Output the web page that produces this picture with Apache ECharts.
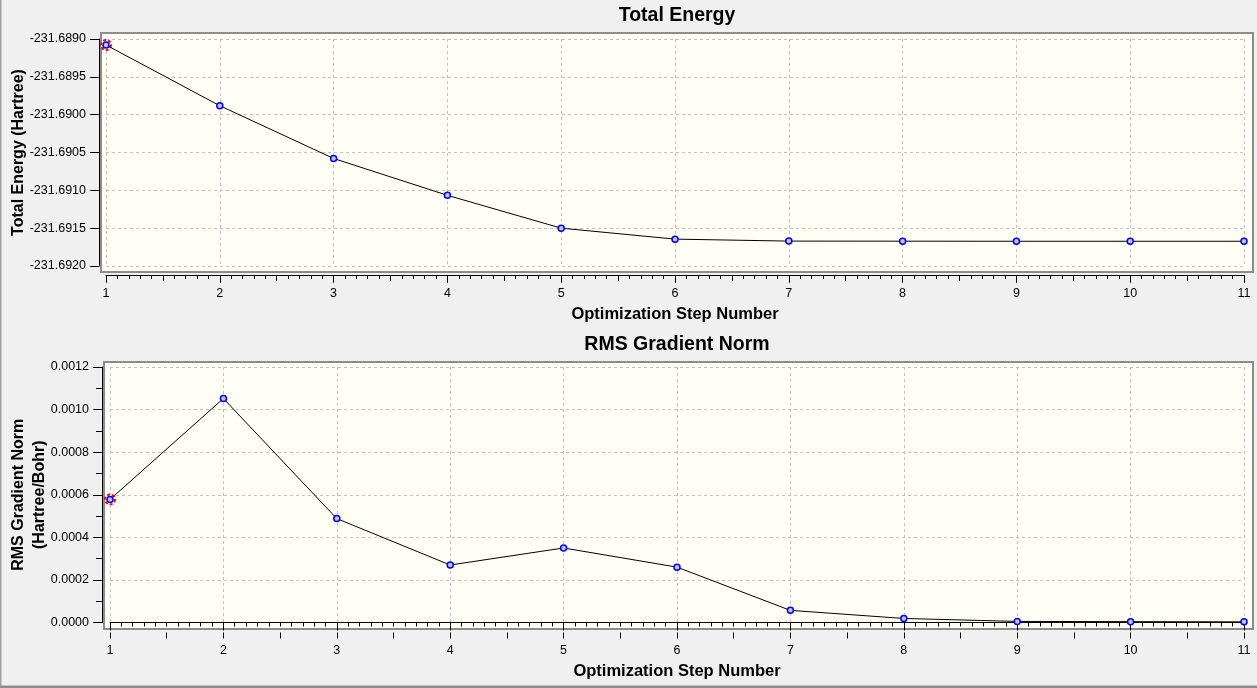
<!DOCTYPE html>
<html>
<head>
<meta charset="utf-8">
<title>Optimization</title>
<script src="https://cdn.jsdelivr.net/npm/echarts@6/dist/echarts.min.js"></script>
<style>
  html, body { margin: 0; padding: 0; background: #f0f0f0; }
  #chart { width: 1257px; height: 688px; }
</style>
</head>
<body>
<div id="chart"></div>
<script>
// data
const steps = [1, 2, 3, 4, 5, 6, 7, 8, 9, 10, 11];
const totalEnergy = [-231.689079, -231.689882, -231.690579, -231.691066, -231.691500,
  -231.691645, -231.691671, -231.691672, -231.691673, -231.691673, -231.691673];
const rmsGradient = [0.000578, 0.001052, 0.000488, 0.000270, 0.000350,
  0.000260, 0.000057, 0.000019, 0.000005, 0.000004, 0.000003];

// axis ranges: min, max, step
const stepAxis = [1, 11, 1];
const energyAxis = [-231.6920, -231.6890, 0.0005];
const gradientAxis = [0, 0.0012, 0.0002];

const titles = ['Total Energy', 'RMS Gradient Norm'];
const xName = 'Optimization Step Number';
const yNames = ['Total Energy (Hartree)', 'RMS Gradient Norm\n(Hartree/Bohr)'];

(function() {
  let myChart = echarts.init(document.getElementById('chart'))
  const font = '"Liberation Sans", Arial, sans-serif'

  // plot boxes (area covered by the axis range) + frame padding [t, r, b, l]
  const plots = [
    { left: 106, top: 39, width: 1138, height: 227, pad: [6, 9, 6, 5], xOff: 9, yOff: 7, xGap: 31, yGap: 70 },
    { left: 110, top: 367, width: 1134, height: 255.5, pad: [5, 9, 6.5, 6], xOff: 10, yOff: 8, xGap: 30, yGap: 52 }
  ]

  function xAxes(i) {
    const base = {
      type: 'value', gridIndex: i, position: 'bottom', offset: plots[i].xOff,
      min: stepAxis[0], max: stepAxis[1]
    }
    return [
      Object.assign({}, base, {
        interval: stepAxis[2],
        name: xName, nameLocation: 'middle', nameGap: plots[i].xGap, nameMoveOverlap: false,
        nameTextStyle: { fontFamily: font, fontSize: 16.5, fontWeight: 'bold', color: '#000' },
        axisLine: { show: true, lineStyle: { color: '#000', width: 1 } },
        axisTick: { show: true, length: 8, lineStyle: { color: '#000' } },
        minorTick: { show: true, splitNumber: 10, length: 4, lineStyle: { color: '#000' } },
        axisLabel: { margin: 12, fontFamily: font, fontSize: 12.5, color: '#000',
          showMinLabel: true, showMaxLabel: true },
        splitLine: { show: true, lineStyle: { color: '#c0c0c0', type: [3, 3] } }
      }),
      // half-step ticks, a little longer than the minor ones
      Object.assign({}, base, {
        interval: stepAxis[2] / 2,
        axisLine: { show: false },
        axisTick: { show: true, length: 6, lineStyle: { color: '#000' } },
        axisLabel: { show: false },
        splitLine: { show: false }
      })
    ]
  }

  function yAxis(i, range, minor, name) {
    return {
      type: 'value', gridIndex: i, position: 'left', offset: plots[i].yOff,
      min: range[0], max: range[1], interval: range[2],
      name: name, nameLocation: 'middle', nameGap: plots[i].yGap, nameMoveOverlap: false,
      nameTextStyle: { fontFamily: font, fontSize: 16, fontWeight: 'bold', color: '#000', lineHeight: 21 },
      axisLine: { show: true, lineStyle: { color: '#000', width: 1 } },
      axisTick: { show: true, length: 9, lineStyle: { color: '#000' } },
      minorTick: { show: minor, splitNumber: 2, length: 6, lineStyle: { color: '#000' } },
      axisLabel: { margin: 13, fontFamily: font, fontSize: 12.5, color: '#000',
        showMinLabel: true, showMaxLabel: true,
        formatter: v => v.toFixed(4) },
      splitLine: { show: true, lineStyle: { color: '#c0c0c0', type: [3, 3] } }
    }
  }

  function lineSeries(i, values) {
    return {
      type: 'line', xAxisIndex: i * 2, yAxisIndex: i,
      data: steps.map((s, k) => [s, values[k]]),
      symbol: 'circle', symbolSize: 6, showAllSymbol: true,
      lineStyle: { color: '#000', width: 1 },
      itemStyle: { color: '#c4c4dc', borderColor: '#0000ff', borderWidth: 1.5 },
      emphasis: { disabled: true },
      z: 3
    }
  }

  // dashed red ring round the first (current) point, drawn under the marker
  function firstPointRing(i, values) {
    return {
      type: 'scatter', xAxisIndex: i * 2, yAxisIndex: i,
      data: [[steps[0], values[0]]],
      symbol: 'emptyCircle', symbolSize: 10,
      itemStyle: { color: '#ff0000', borderColor: '#ff0000', borderWidth: 1.4, borderType: [3, 2], opacity: 1 },
      emphasis: { disabled: true },
      z: 2
    }
  }

  let option = {
    animation: false,
    backgroundColor: '#f0f0f0',
    title: titles.map((t, i) => ({
      text: t,
      left: 677, textAlign: 'center',
      top: i === 0 ? 6 : 335,
      padding: 0,
      textStyle: { fontFamily: font, fontSize: 19.5, fontWeight: 'bold', color: '#000' }
    })),
    grid: plots.map(p => ({
      left: p.left, top: p.top, width: p.width, height: p.height,
      containLabel: false, outerBoundsMode: 'none'
    })),
    xAxis: xAxes(0).concat(xAxes(1)),
    yAxis: [
      yAxis(0, energyAxis, false, yNames[0]),
      yAxis(1, gradientAxis, true, yNames[1])
    ],
    series: [
      firstPointRing(0, totalEnergy),
      lineSeries(0, totalEnergy),
      firstPointRing(1, rmsGradient),
      lineSeries(1, rmsGradient)
    ],
    graphic: plots.map(p => ({
      type: 'rect', z: -10, silent: true,
      shape: {
        x: p.left - p.pad[3], y: p.top - p.pad[0],
        width: p.width + p.pad[1] + p.pad[3], height: p.height + p.pad[0] + p.pad[2]
      },
      style: { fill: '#fffff6', stroke: '#8c8c8c', lineWidth: 2 }
    })).concat([
      // window edges
      { type: 'rect', silent: true, shape: { x: 0, y: 0, width: 1.5, height: 688 }, style: { fill: '#a0a0a0' } },
      { type: 'rect', silent: true, shape: { x: 0, y: 685.5, width: 1257, height: 3 }, style: { fill: '#8c8c8c' } }
    ])
  }
  myChart.setOption(option);
  window.addEventListener('resize', function() {
    myChart.resize()
  })
})();
</script>
</body>
</html>
